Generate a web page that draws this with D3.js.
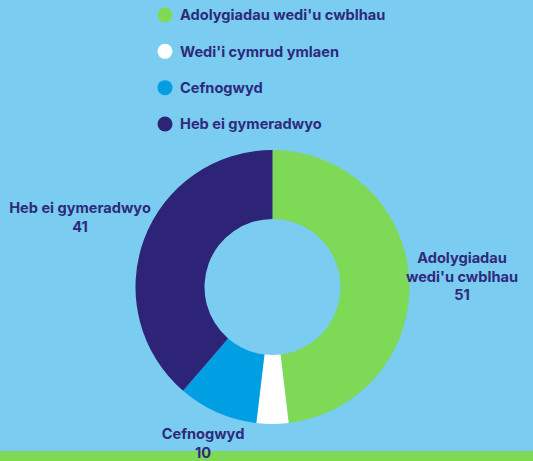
<!DOCTYPE html>
<html><head><meta charset="utf-8">
<script src="https://cdn.jsdelivr.net/npm/d3@7"></script>
<style>html,body{margin:0;padding:0;background:#7accf0;}svg{display:block;}</style>
</head><body>
<script>
const categories = ["Adolygiadau wedi'u cwblhau", "Wedi'i cymrud ymlaen", "Cefnogwyd", "Heb ei gymeradwyo"];
const values = [51, 4, 10, 41];
const colors = ["#7ed957", "#ffffff", "#009ee2", "#2e2477"];
const labelLines = [["Adolygiadau", "wedi'u cwblhau", "51"], null, ["Cefnogwyd", "10"], ["Heb ei gymeradwyo", "41"]];

const W = 533, H = 461;
const textColor = "#2e2a7c";
const font = "Inter, 'Open Sans', sans-serif";
const fs = 14.6;
const svg = d3.select("body").append("svg").attr("width", W).attr("height", H);
svg.append("rect").attr("width", W).attr("height", H).attr("fill", "#7accf0");
svg.append("rect").attr("x", 0).attr("y", 451).attr("width", W).attr("height", 10).attr("fill", "#7ed957");

const cx = 272.5, cy = 287;
const pie = d3.pie().sort(null).value(d => d);
const arcs = pie(values);
const arc = d3.arc().innerRadius(68).outerRadius(137);
const g = svg.append("g").attr("transform", `translate(${cx},${cy})`);
g.selectAll("path").data(arcs).join("path").attr("d", arc).attr("fill", (d, i) => colors[i]);

// legend
const leg = svg.append("g");
const ly = d3.scalePoint().domain(categories).range([15, 124]);
categories.forEach((c, i) => {
  leg.append("circle").attr("cx", 165).attr("cy", ly(c)).attr("r", 7.5).attr("fill", colors[i]);
  leg.append("text").attr("x", 180).attr("y", ly(c)).attr("dy", "0.36em")
    .attr("font-family", font).attr("font-weight", 700).attr("font-size", fs)
    .attr("fill", textColor).text(c);
});

// labels
const labelPos = [[462, 258], null, [203, 434], [80, 208]];
labelLines.forEach((lines, i) => {
  if (!lines) return;
  const t = svg.append("text").attr("text-anchor", "middle")
    .attr("font-family", font).attr("font-weight", 700).attr("font-size", fs).attr("fill", textColor);
  lines.forEach((l, j) => {
    t.append("tspan").attr("x", labelPos[i][0]).attr("y", labelPos[i][1] + j * 18.5).attr("dy", "0.36em").text(l);
  });
});
</script>
</body></html>
